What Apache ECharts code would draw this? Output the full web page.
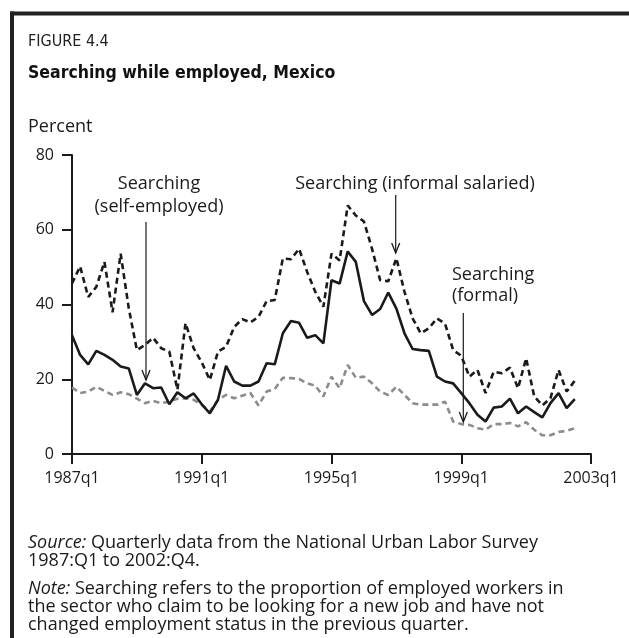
<!DOCTYPE html>
<html>
<head>
<meta charset="utf-8">
<script src="https://cdn.jsdelivr.net/npm/echarts@6/dist/echarts.min.js"></script>
<style>
html,body{margin:0;padding:0;background:#fff;}
#chart{width:629px;height:638px;}
</style>
</head>
<body>
<div id="chart"></div>
<script>
// Quarterly data, 1987Q1 onward (index 0 = 1987Q1)
var informalSalaried = [45.6,50.2,42,44.7,51.4,37.9,53.6,39,27.8,29.2,31.1,28.3,27.4,17.2,35,28.3,
  24.5,19.8,27.4,28.7,34,36.1,35.2,36.7,40.9,41.2,52.3,52.1,54.9,48.7,43.4,39.4,
  53.6,51.8,66.5,63.8,62.2,54.9,46.5,46.2,52.4,43.4,36.3,32.3,33.6,36.3,34.9,27.8,
  26.3,20.7,22.5,16.3,22,21.6,23.1,17.6,25.6,15.4,13,14.9,22.5,16.7,19.6];
var selfEmployed = [31.8,26.5,24,27.6,26.5,25.2,23.4,22.9,15.8,18.9,17.6,17.8,13.3,16.5,14.9,16.2,
  13.3,10.9,14.5,23.6,19.4,18.3,18.3,19.4,24.3,24,32.3,35.6,35.1,31.1,31.8,29.6,
  46.5,45.6,54.2,51.4,40.9,37.2,38.8,43.2,38.9,32.3,28.1,27.8,27.6,20.7,19.4,18.9,
  16.3,13.6,10.5,8.7,12.4,12.7,14.8,10.9,12.7,11.2,9.8,13.6,16.3,12.3,14.7];
var formal = [17.8,16.3,16.7,18,16.9,15.8,16.5,16,14.8,13.6,14.2,13.6,14,14.8,14.9,14.5,
  13.2,11.4,14.5,15.8,14.9,15.6,16.3,13,16.7,17.4,20.4,20.3,20.1,18.9,18.3,15.4,
  20.7,17.6,23.8,20.4,20.7,18.9,16.7,15.8,18,15.8,13.6,13.2,13.2,13.2,14,8.7,
  8,7.8,6.9,6.5,8,8,8.3,7.4,8.5,6.5,5,5,5.9,6.2,6.9];
var startYear = 1987;
var xTickYears = ['1987q1','1991q1','1995q1','1999q1','2003q1'];
var yTicks = [0,20,40,60,80];

function toPairs(arr){ return arr.map(function(v,i){ return [i, v]; }); }

var FONT = '"Open Sans", "Noto Sans", sans-serif';
var COND = '"Liberation Sans Narrow", "DejaVu Sans Condensed", sans-serif';
var INK = '#1a1a1a';
var GRAY = '#8c8c8c';
var TXT = 18;

var chart = echarts.init(document.getElementById('chart'), null, {renderer:'canvas'});

function arrow(x, y1, y2){
  return [
    {type:'line', shape:{x1:x, y1:y1, x2:x, y2:y2}, style:{stroke:INK, lineWidth:1.2}, z:100},
    {type:'polyline', shape:{points:[[x-4,y2-10],[x,y2],[x+4,y2-10]]}, style:{stroke:INK, lineWidth:1.3, fill:null}, z:100}
  ];
}
function txt(t, x, y, align, extra){
  var s = {text:t, x:x, y:y, fill:INK, fontSize:TXT, fontFamily:FONT, align:align||'left', verticalAlign:'middle'};
  if (extra) for (var k in extra) s[k] = extra[k];
  return {type:'text', style:s, z:100};
}
function richTxt(lead, rest, x, y){
  return {type:'text', z:100, style:{x:x, y:y, verticalAlign:'middle', text:'{i|' + lead + '} ' + rest,
    fontSize:TXT, fontFamily:FONT, fill:INK,
    rich:{i:{fontStyle:'italic', fontSize:TXT, fontFamily:FONT, fill:INK}}}};
}

var graphics = [
  {type:'line', shape:{x1:10, y1:13.5, x2:629, y2:13.5}, style:{stroke:'#222', lineWidth:4}},
  {type:'line', shape:{x1:12, y1:11.5, x2:12, y2:638}, style:{stroke:'#222', lineWidth:4}},
  txt('FIGURE 4.4', 28, 42, 'left', {fontFamily:COND, fontSize:16, fill:'#222'}),
  txt('Searching while employed, Mexico', 28, 73, 'left', {fontFamily:COND, fontSize:17.5, fontWeight:'bold', fill:'#111'}),
  txt('Percent', 28, 127, 'left'),
  txt('Searching', 159, 184, 'center'),
  txt('(self-employed)', 159, 207, 'center'),
  txt('Searching (informal salaried)', 415, 184, 'center'),
  txt('Searching', 452, 275, 'left'),
  txt('(formal)', 452, 296, 'left'),
  richTxt('Source:', 'Quarterly data from the National Urban Labor Survey', 28, 543),
  txt('1987:Q1 to 2002:Q4.', 28, 561, 'left'),
  richTxt('Note:', 'Searching refers to the proportion of employed workers in', 28, 589),
  txt('the sector who claim to be looking for a new job and have not', 28, 607, 'left'),
  txt('changed employment status in the previous quarter.', 28, 625, 'left')
].concat(arrow(146, 222, 380)).concat(arrow(395.7, 195, 253)).concat(arrow(463.3, 313, 422));

var option = {
  backgroundColor:'#fff',
  animation:false,
  grid:{left:72, top:155, right:38, bottom:184, containLabel:false},
  xAxis:{
    type:'value', min:0, max:64, interval:16,
    axisLine:{show:true, lineStyle:{color:INK, width:2}},
    axisTick:{show:true, length:10, lineStyle:{color:INK, width:2}},
    splitLine:{show:false},
    axisLabel:{color:INK, fontSize:16, fontFamily:FONT, margin:16,
      formatter:function(v){ return xTickYears[v/16] || ((startYear + v/4) + 'q1'); }}
  },
  yAxis:{
    type:'value', min:yTicks[0], max:yTicks[yTicks.length-1], interval:20,
    axisLine:{show:true, lineStyle:{color:INK, width:2}},
    axisTick:{show:true, length:10, lineStyle:{color:INK, width:2}},
    splitLine:{show:false},
    axisLabel:{color:INK, fontSize:16, fontFamily:FONT, margin:18}
  },
  series:[
    {name:'Searching (informal salaried)', type:'line', data:toPairs(informalSalaried), showSymbol:false, symbol:'none',
      lineStyle:{color:INK, width:2.6, type:[6,4]}, z:3},
    {name:'Searching (self-employed)', type:'line', data:toPairs(selfEmployed), showSymbol:false, symbol:'none',
      lineStyle:{color:INK, width:2.6, type:'solid'}, z:4},
    {name:'Searching (formal)', type:'line', data:toPairs(formal), showSymbol:false, symbol:'none',
      lineStyle:{color:GRAY, width:2.6, type:[6,4]}, z:2}
  ],
  graphic:graphics
};
chart.setOption(option);
</script>
</body>
</html>
